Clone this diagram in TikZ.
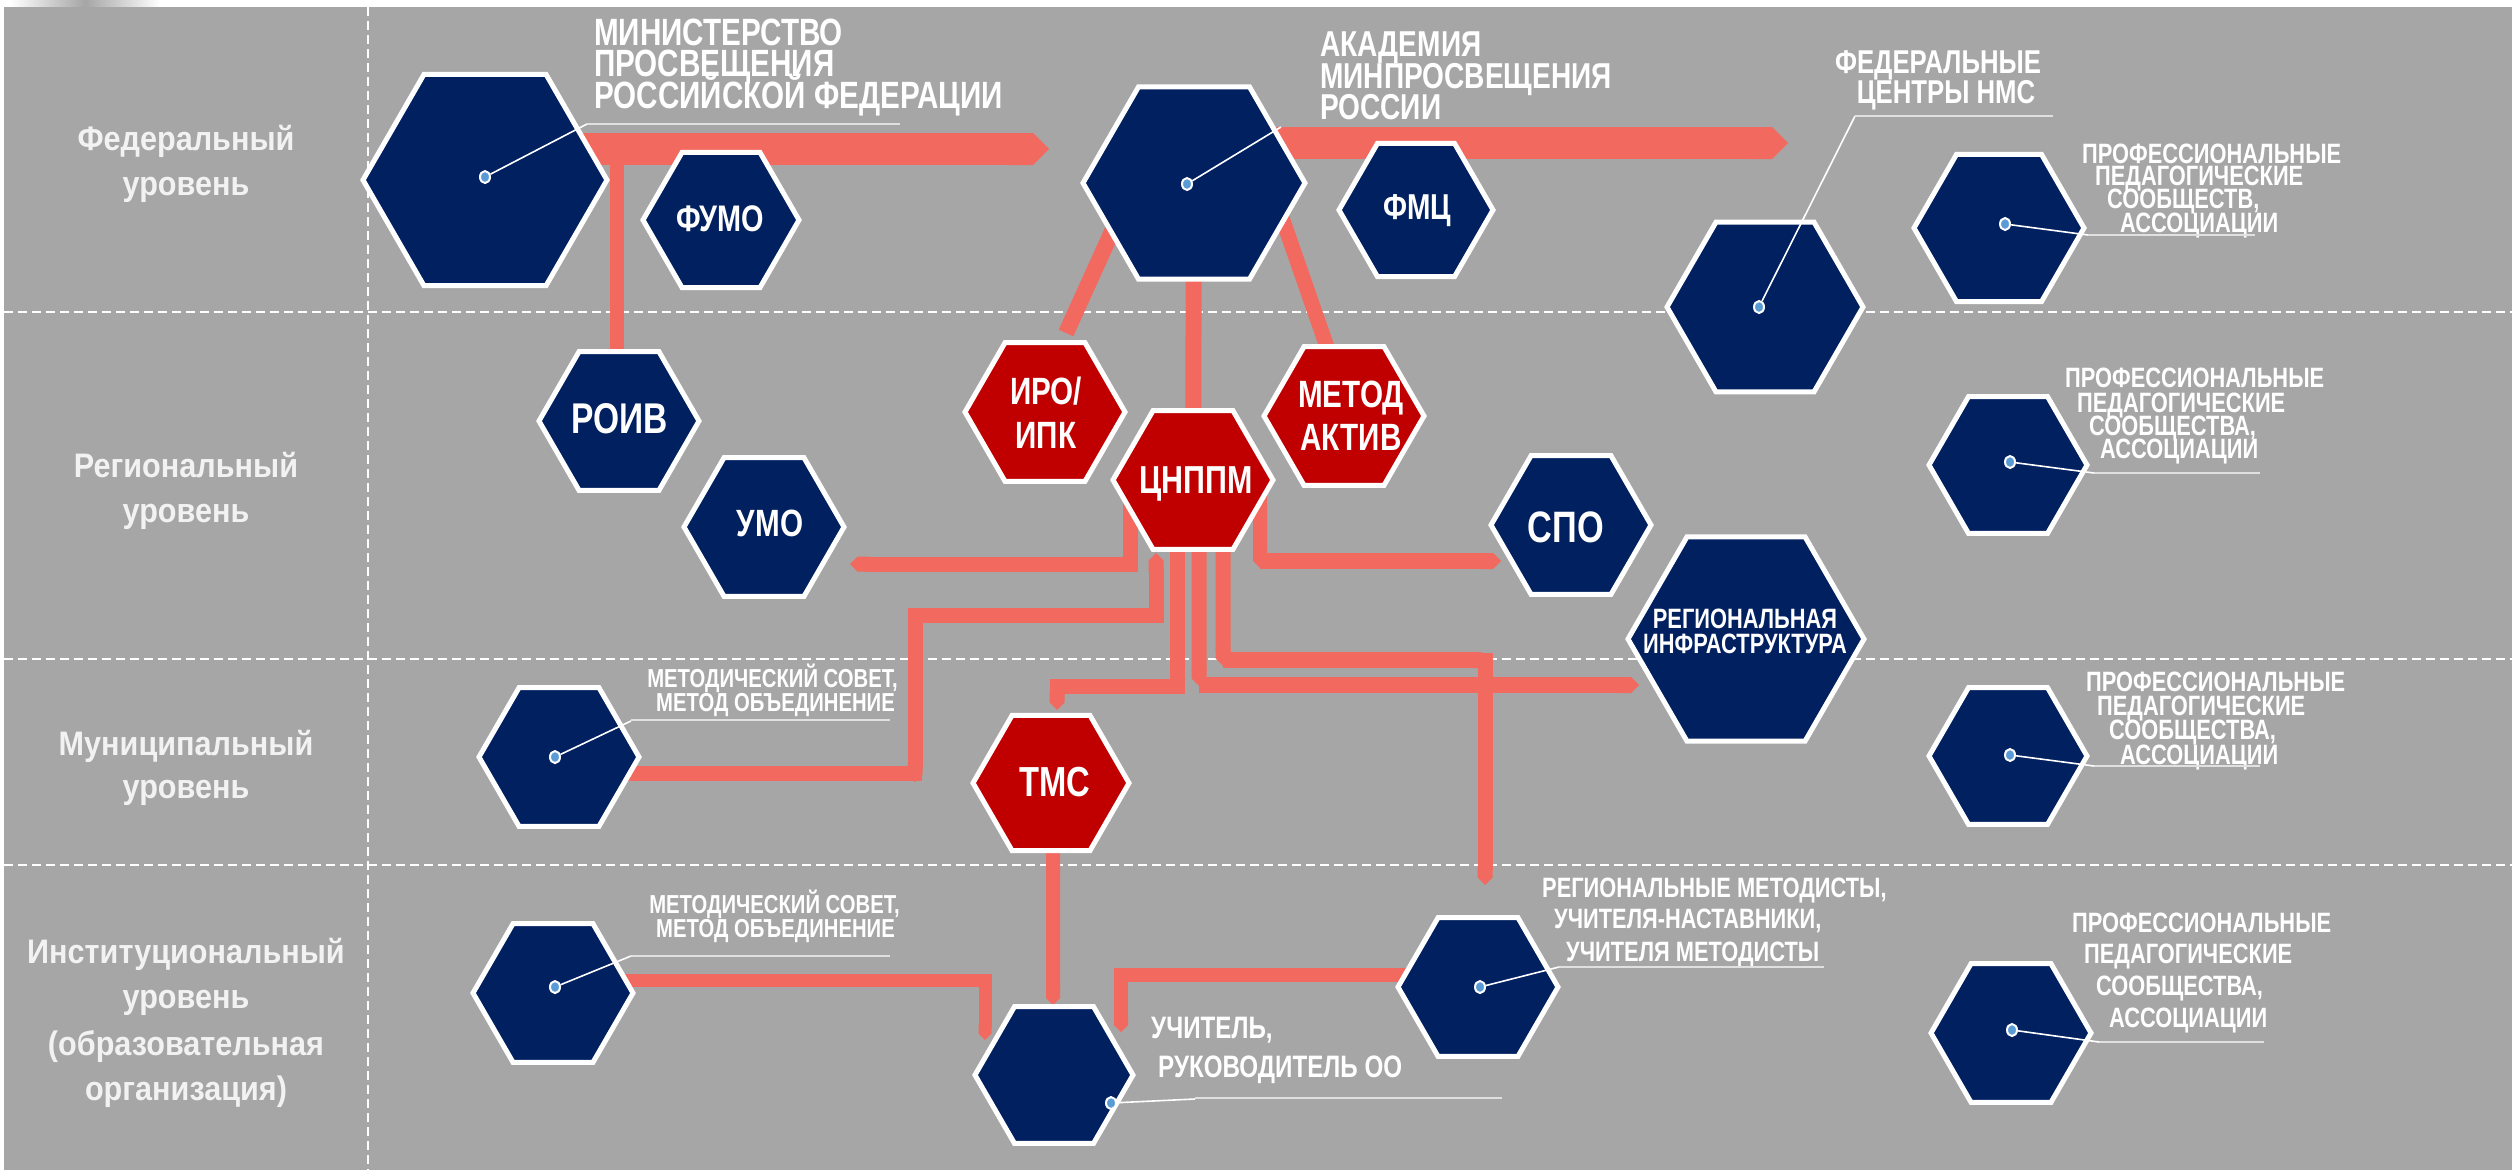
\documentclass[tikz,border=0pt]{standalone}
\usepackage{fontspec}
\setmainfont{Liberation Sans}
\newfontfamily\narfont[FakeStretch=0.78]{Liberation Sans}
\newfontfamily\lvlfont[FakeStretch=0.9]{Liberation Sans}
\usetikzlibrary{shapes.geometric,arrows.meta}
\newcommand\setfs[1]{\fontsize{#1bp}{#1bp}\selectfont}
\definecolor{bggrey}{HTML}{A6A6A6}
\definecolor{navy}{HTML}{002060}
\definecolor{dred}{HTML}{C00000}
\definecolor{salmon}{HTML}{F26A5F}
\definecolor{dotblue}{HTML}{5B9BD5}
\definecolor{lvlwhite}{HTML}{F2F2F2}
\definecolor{ulgrey}{HTML}{E0E0E0}
\pgfdeclarelayer{back}
\pgfdeclarelayer{mid}
\pgfsetlayers{back,mid,main}
\begin{document}
\begin{tikzpicture}[x=1bp,y=-1bp,
  hexbase/.style={regular polygon, regular polygon sides=6, draw=white, line width=5bp, inner sep=0pt, outer sep=0pt},
  bluehex/.style={hexbase, fill=navy},
  redhex/.style={hexbase, fill=dred},
  hexlab/.style={text=white, font=\narfont\bfseries\setfs{#1}, anchor=base, inner sep=0pt, text height=0.72em, text depth=0.03em},
  txtw/.style={text=white, font=\narfont\bfseries\setfs{#1}, anchor=base west, inner sep=0pt, text height=0.72em, text depth=0.03em},
  txte/.style={text=white, font=\narfont\bfseries\setfs{#1}, anchor=base east, inner sep=0pt, text height=0.72em, text depth=0.03em},
  lvltxt/.style={text=lvlwhite, font=\lvlfont\bfseries\setfs{34}, anchor=base, inner sep=0pt},
  band/.style={draw=salmon, line width=15bp, line join=miter},
  wideband/.style={draw=salmon, line width=32bp},
  capend/.style={-{Triangle Cap}},
  leader/.style={draw=white, line width=1.6bp},
  uline/.style={draw=ulgrey, line width=1.6bp},
  dot/.style={ellipse, fill=dotblue, draw=white, line width=2bp, minimum width=10bp, minimum height=12bp, inner sep=0pt},
  dashline/.style={draw=white, line width=2.5bp, dash pattern=on 9bp off 5bp}
]
\useasboundingbox (0,0) rectangle (2512,1170);
\begin{pgfonlayer}{back}
  \fill[white] (0,0) rectangle (2512,1170);
  \shade[left color=white, right color=white, middle color=gray!70] (10,0) rectangle (160,7);
  \fill[bggrey] (4,7) rectangle (2512,1170);
  \draw[dashline] (368,7) -- (368,1170);
  \draw[dashline] (4,312) -- (2512,312);
  \draw[dashline] (4,659) -- (2512,659);
  \draw[dashline] (4,865) -- (2512,865);
\end{pgfonlayer}

% level labels
\node[lvltxt] (lf1) at (186,150) {Федеральный};
\node[lvltxt] (lf2) at (186,195) {уровень};
\node[lvltxt] (lr1) at (186,477) {Региональный};
\node[lvltxt] (lr2) at (186,522) {уровень};
\node[lvltxt] (lm1) at (186,755) {Муниципальный};
\node[lvltxt] (lm2) at (186,798) {уровень};
\node[lvltxt] (li1) at (186,963) {Институциональный};
\node[lvltxt] (li2) at (186,1008) {уровень};
\node[lvltxt] (li3) at (186,1055) {(образовательная};
\node[lvltxt] (li4) at (186,1100) {организация)};

% hexagons
\node[bluehex, minimum size=244bp] (minp) at (485,180) {};
\node[bluehex, minimum size=222bp] (akad) at (1194,183) {};
\node[bluehex, minimum size=156bp] (fumo) at (721,220) {};
\node[bluehex, minimum size=154bp] (fmc) at (1416,210) {};
\node[bluehex, minimum size=196bp] (fedc) at (1765,307) {};
\node[bluehex, minimum size=170bp] (prof1) at (1999,228) {};
\node[bluehex, minimum size=158bp] (prof2) at (2008,465) {};
\node[bluehex, minimum size=158bp] (prof3) at (2008,756) {};
\node[bluehex, minimum size=160bp] (prof4) at (2011,1033) {};
\node[bluehex, minimum size=160bp] (roiv) at (619,421) {};
\node[bluehex, minimum size=160bp] (umo) at (764,527) {};
\node[redhex, minimum size=160bp] (iro) at (1045,412) {};
\node[redhex, minimum size=160bp] (cnppm) at (1193,480) {};
\node[redhex, minimum size=160bp] (metod) at (1344,416) {};
\node[bluehex, minimum size=160bp] (spo) at (1571,525) {};
\node[bluehex, minimum size=236bp] (reginf) at (1746,639) {};
\node[redhex, minimum size=156bp] (tms) at (1051,783) {};
\node[bluehex, minimum size=158bp] (teacher) at (1054,1075) {};
\node[bluehex, minimum size=160bp] (regmet) at (1478,987) {};
\node[bluehex, minimum size=160bp] (munc) at (559,757) {};
\node[bluehex, minimum size=160bp] (instc) at (553,993) {};

% connectors
\begin{pgfonlayer}{mid}
  \draw[wideband,capend] (minp.center |- 0,149) -- (1049,149);
  \draw[band,line width=14bp] (617,149) -- (617,0 |- roiv.center);
  \draw[wideband,capend] (akad.center |- 0,143) -- (1788,143);
  \draw[band,line width=16bp] ([xshift=-60bp]akad.center) -- (1066,333);
  \draw[band,line width=15bp] ([xshift=76bp]akad.center) -- (1327,347);
  \draw[band,line width=16bp] (akad.center) -- (cnppm.center);
  \draw[band,capend] ([xshift=-63bp]cnppm.center) |- (850,564);
  \draw[band,{Triangle Cap}-{Triangle Cap}] (915,782) |- (1156,615) -- (1156,553);
  \draw[band] (munc.center |- 0,773) -- (922,773);
  \draw[band,capend] ([xshift=-16bp]cnppm.center) |- (1057,686) -- (1057,710);
  \draw[band,capend] ([xshift=6bp]cnppm.center) -- (1199,686);
  \draw[band,capend,line width=16bp] (1199,685) -- (1639,685);
  \draw[band,capend] ([xshift=30bp]cnppm.center) -- (1223,666);
  \draw[band,capend,line width=16bp] (1223,660) -- (1489,660);
  \draw[band,capend] (1485,653) -- (1485,885);
  \draw[band,capend,line width=14bp] ([xshift=67bp]cnppm.center) -- (1260,568);
  \draw[band,capend,line width=16bp] (1260,561) -- (1501,561);
  \draw[band,capend,line width=14bp] ([xshift=2bp]tms.center) -- (1053,1005);
  \draw[band,capend,line width=13bp] (instc.center |- 0,980) -| (985,1040);
  \draw[band,capend,line width=14bp] (regmet.center |- 0,975) -| (1121,1032);
\end{pgfonlayer}

% hex labels
\node[hexlab=37] (tfumo) at (720,231) {ФУМО};
\node[hexlab=36] (tfmc) at (1417,219) {ФМЦ};
\node[hexlab=43] (troiv) at (620,433) {РОИВ};
\node[hexlab=38] (tumo) at (770,536) {УМО};
\node[hexlab=38] (tiro1) at (1046,404) {ИРО/};
\node[hexlab=38] (tiro2) at (1046,448) {ИПК};
\node[hexlab=39] (tcn) at (1196,493) {ЦНППМ};
\node[hexlab=38] (tmet1) at (1351,407) {МЕТОД};
\node[hexlab=38] (tmet2) at (1351,450) {АКТИВ};
\node[hexlab=44] (tspo) at (1566,542) {СПО};
\node[hexlab=42] (ttms) at (1055,796) {ТМС};
\node[hexlab=28] (tri1) at (1745,628) {РЕГИОНАЛЬНАЯ};
\node[hexlab=28] (tri2) at (1745,653) {ИНФРАСТРУКТУРА};

% outside texts
\node[txtw=38] (tm1) at (594,45) {МИНИСТЕРСТВО};
\node[txtw=38] (tm2) at (594,76) {ПРОСВЕЩЕНИЯ};
\node[txtw=38] (tm3) at (594,108) {РОССИЙСКОЙ ФЕДЕРАЦИИ};
\node[txtw=36] (ta1) at (1320,56) {АКАДЕМИЯ};
\node[txtw=36] (ta2) at (1320,88) {МИНПРОСВЕЩЕНИЯ};
\node[txtw=36] (ta3) at (1320,119) {РОССИИ};
\node[hexlab=33] (tf1) at (1938,73) {ФЕДЕРАЛЬНЫЕ};
\node[hexlab=33] (tf2) at (1946,103) {ЦЕНТРЫ НМС};

\node[txtw=28] (tp11) at (2082,163) {ПРОФЕССИОНАЛЬНЫЕ};
\node[txtw=28] (tp12) at (2095,185) {ПЕДАГОГИЧЕСКИЕ};
\node[txtw=28] (tp13) at (2107,208) {СООБЩЕСТВ,};
\node[txtw=28] (tp14) at (2120,232) {АССОЦИАЦИИ};
\node[txtw=28] (tp21) at (2065,387) {ПРОФЕССИОНАЛЬНЫЕ};
\node[txtw=28] (tp22) at (2077,412) {ПЕДАГОГИЧЕСКИЕ};
\node[txtw=28] (tp23) at (2089,435) {СООБЩЕСТВА,};
\node[txtw=28] (tp24) at (2100,458) {АССОЦИАЦИИ};
\node[txtw=28] (tp31) at (2086,691) {ПРОФЕССИОНАЛЬНЫЕ};
\node[txtw=28] (tp32) at (2097,715) {ПЕДАГОГИЧЕСКИЕ};
\node[txtw=28] (tp33) at (2109,739) {СООБЩЕСТВА,};
\node[txtw=28] (tp34) at (2120,764) {АССОЦИАЦИИ};
\node[txtw=28] (tp41) at (2072,932) {ПРОФЕССИОНАЛЬНЫЕ};
\node[txtw=28] (tp42) at (2084,963) {ПЕДАГОГИЧЕСКИЕ};
\node[txtw=28] (tp43) at (2096,995) {СООБЩЕСТВА,};
\node[txtw=28] (tp44) at (2109,1027) {АССОЦИАЦИИ};

\node[txte=26] (tmc1) at (898,687) {МЕТОДИЧЕСКИЙ СОВЕТ,};
\node[txte=26] (tmc2) at (895,711) {МЕТОД ОБЪЕДИНЕНИЕ};
\node[txte=26] (tic1) at (900,913) {МЕТОДИЧЕСКИЙ СОВЕТ,};
\node[txte=26] (tic2) at (895,937) {МЕТОД ОБЪЕДИНЕНИЕ};
\node[txtw=31] (tt1) at (1151,1038) {УЧИТЕЛЬ,};
\node[txtw=31] (tt2) at (1158,1077) {РУКОВОДИТЕЛЬ ОО};
\node[txtw=28] (trm1) at (1542,897) {РЕГИОНАЛЬНЫЕ МЕТОДИСТЫ,};
\node[txtw=28] (trm2) at (1554,928) {УЧИТЕЛЯ-НАСТАВНИКИ,};
\node[txtw=28] (trm3) at (1566,961) {УЧИТЕЛЯ МЕТОДИСТЫ};

% dots and leaders
\node[dot] (dminp) at (485,177) {};
\draw[leader] (dminp) -- (587,124);
\draw[uline] (587,124) -- (900,124);
\node[dot] (dakad) at (1187,184) {};
\draw[leader] (dakad) -- (1281,127);
\node[dot] (dfedc) at (1759,307) {};
\draw[leader] (dfedc) -- (1855,116);
\draw[uline] (1855,116) -- (2053,116);
\node[dot] (dp1) at (2005,224) {};
\draw[leader] (dp1) -- (2088,235);
\draw[uline] (2088,235) -- (2255,235);
\node[dot] (dp2) at (2010,462) {};
\draw[leader] (dp2) -- (2094,473);
\draw[uline] (2094,473) -- (2260,473);
\node[dot] (dp3) at (2010,755) {};
\draw[leader] (dp3) -- (2094,766);
\draw[uline] (2094,766) -- (2260,766);
\node[dot] (dp4) at (2012,1030) {};
\draw[leader] (dp4) -- (2099,1042);
\draw[uline] (2099,1042) -- (2264,1042);
\node[dot] (dmc) at (555,757) {};
\draw[leader] (dmc) -- (631,721);
\draw[uline] (631,720) -- (890,720);
\node[dot] (dic) at (555,987) {};
\draw[leader] (dic) -- (631,956);
\draw[uline] (631,956) -- (890,956);
\node[dot] (drm) at (1480,987) {};
\draw[leader] (drm) -- (1559,967);
\draw[uline] (1559,967) -- (1824,967);
\node[dot] (dt) at (1111,1103) {};
\draw[leader] (dt) -- (1195,1099);
\draw[uline] (1195,1098) -- (1502,1098);
\end{tikzpicture}
\end{document}
